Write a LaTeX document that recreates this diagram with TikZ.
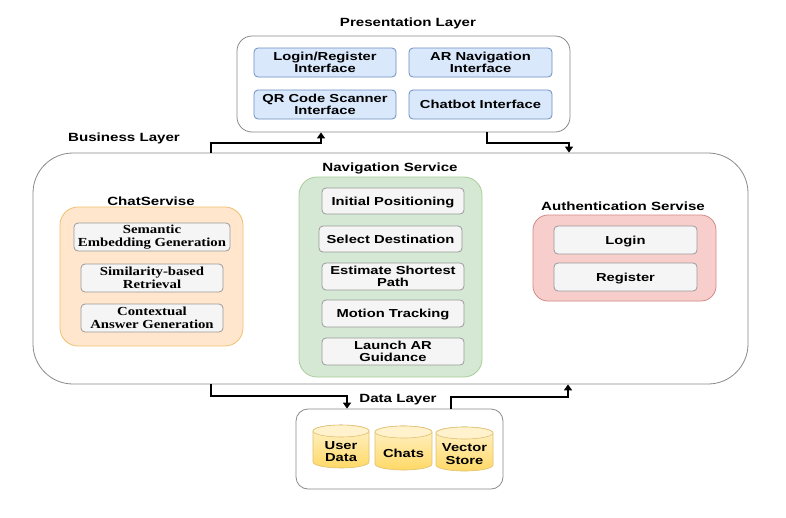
\documentclass[tikz,border=0pt]{standalone}
\usepackage{fontspec}
\setmainfont{Liberation Sans}[FakeStretch=1.27]
\newfontfamily\serifb{Liberation Serif}[FakeStretch=1.2]
\usetikzlibrary{arrows.meta}
\definecolor{bluef}{HTML}{DAE8FC}\definecolor{blued}{HTML}{6C8EBF}
\definecolor{greenf}{HTML}{D5E8D4}\definecolor{greend}{HTML}{A9CC98}
\definecolor{orangef}{HTML}{FFE6CC}\definecolor{oranged}{HTML}{F0C070}
\definecolor{redf}{HTML}{F8CECC}\definecolor{redd}{HTML}{D08A86}
\definecolor{grayf}{HTML}{F5F5F5}\definecolor{grayd}{HTML}{9A9A9A}
\definecolor{outerd}{HTML}{8A8A8A}
\definecolor{cyltop}{HTML}{FFF2CC}\definecolor{cylbot}{HTML}{FFD966}\definecolor{cyld}{HTML}{E0C070}
\tikzset{
  layerbox/.style={draw=outerd,line width=0.8pt,fill=white,rectangle,inner sep=0pt},
  ttl/.style={font=\bfseries\fontsize{11.9}{13}\selectfont,inner sep=0pt},
  itm/.style={rectangle,rounded corners=4pt,line width=0.8pt,inner sep=0pt,align=center,font=\bfseries\fontsize{11.6}{12.6}\selectfont},
  sl/.style={text height=8.8pt,text depth=0pt},
  bitm/.style={itm,fill=bluef,draw=blued},
  gitm/.style={itm,fill=grayf,draw=grayd},
  sitm/.style={gitm,font=\serifb\bfseries\fontsize{12.3}{12.8}\selectfont},
  arr/.style={line width=1.8pt,-{Triangle[width=8pt,length=6pt]}},
  cylbody/.style={draw=cyld,line width=0.6pt,top color=cyltop,bottom color=cylbot},
  cyltopst/.style={draw=cyld,line width=0.6pt,fill=cyltop},
  cyltext/.style={inner sep=0pt,align=center,font=\bfseries\fontsize{11.6}{12.6}\selectfont}
}
\newcommand\dbcyl[6]{%
  \path[cylbody] (#2-#5,#3+6) -- (#2-#5,#4-6) arc[start angle=180,end angle=360,x radius=#5pt,y radius=6pt] -- (#2+#5,#3+6) arc[start angle=0,end angle=180,x radius=#5pt,y radius=6pt] -- cycle;
  \path[cyltopst] (#2,#3+6) ellipse[x radius=#5pt,y radius=6pt];
  \node[cyltext] (#1) at (#2,{(#3+#4)/2+5}) {#6};}
\begin{document}
\begin{tikzpicture}[x=1pt,y=-1pt]
\useasboundingbox (0,0) rectangle (786,517);
\fill[white] (0,0) rectangle (786,517);
% Presentation layer
\node[ttl] (tp) at (408,23.5) {Presentation Layer};
\node[layerbox,rounded corners=15pt,minimum width=333pt,minimum height=96pt] (pl) at (403.5,84) {};
\node[bitm,minimum width=142pt,minimum height=29pt] (p1) at (325,62.5) {Login/Register\\Interface};
\node[bitm,minimum width=143pt,minimum height=29pt] (p2) at (480.5,62.5) {AR Navigation\\Interface};
\node[bitm,minimum width=142pt,minimum height=29pt] (p3) at (325,104.5) {QR Code Scanner\\Interface};
\node[bitm,sl,minimum width=143pt,minimum height=29pt] (p4) at (480.5,104.5) {Chatbot Interface};
% Business layer
\node[ttl] (tb) at (124,138.5) {Business Layer};
\node[layerbox,rounded corners=40pt,minimum width=715pt,minimum height=231pt] (bl) at (390.5,268.5) {};
% Navigation service
\node[ttl] (tn) at (390,168.5) {Navigation Service};
\node[rectangle,rounded corners=18pt,fill=greenf,draw=greend,line width=0.8pt,minimum width=183pt,minimum height=200pt] (nv) at (390.5,277) {};
\node[gitm,sl,minimum width=142pt,minimum height=26pt] (n1) at (393,201) {Initial Positioning};
\node[gitm,sl,minimum width=143pt,minimum height=26pt] (n2) at (390.5,239) {Select Destination};
\node[gitm,minimum width=142pt,minimum height=27pt] (n3) at (393,276.5) {Estimate Shortest\\Path};
\node[gitm,sl,minimum width=142pt,minimum height=27pt] (n4) at (393,313.5) {Motion Tracking};
\node[gitm,minimum width=142pt,minimum height=27pt] (n5) at (393,351.5) {Launch AR\\Guidance};
% Chat service
\node[ttl] (tc) at (151,201.5) {ChatServise};
\node[rectangle,rounded corners=18pt,fill=orangef,draw=oranged,line width=0.8pt,minimum width=183pt,minimum height=139pt] (cs) at (151.5,276.5) {};
\node[sitm,minimum width=156pt,minimum height=28pt] (c1) at (152,237) {Semantic\\Embedding Generation};
\node[sitm,minimum width=142pt,minimum height=28pt] (c2) at (152,278) {Similarity-based\\Retrieval};
\node[sitm,minimum width=142pt,minimum height=28pt] (c3) at (152,318) {Contextual\\Answer Generation};
% Authentication service
\node[ttl] (ta) at (623,206.5) {Authentication Servise};
\node[rectangle,rounded corners=15pt,fill=redf,draw=redd,line width=0.8pt,minimum width=183pt,minimum height=86pt] (au) at (624.5,258) {};
\node[gitm,sl,minimum width=143pt,minimum height=28pt] (a1) at (625.5,240) {Login};
\node[gitm,sl,minimum width=143pt,minimum height=28pt] (a2) at (625.5,277) {Register};
% Data layer
\node[ttl] (td) at (398,400) {Data Layer};
\node[layerbox,rounded corners=12pt,minimum width=207pt,minimum height=80pt] (dl) at (399.5,449) {};
\dbcyl{d1}{341}{425}{468}{28}{User\\Data}
\dbcyl{d2}{403.5}{426}{470}{28.5}{Chats}
\dbcyl{d3}{464.5}{427}{471}{28.5}{Vector\\Store}
% connectors
\coordinate (k1) at (211,143); \coordinate (k2) at (321,143);
\coordinate (k3) at (487,143); \coordinate (k4) at (569,143);
\coordinate (k5) at (211,396); \coordinate (k6) at (347,396);
\coordinate (k7) at (451,397); \coordinate (k8) at (568,397);
\draw[arr] (k1 |- bl.north) -- (k1) -- (k2) -- (k2 |- pl.south);
\draw[arr] (k3 |- pl.south) -- (k3) -- (k4) -- (k4 |- bl.north);
\draw[arr] (k5 |- bl.south) -- (k5) -- (k6) -- (k6 |- dl.north);
\draw[arr] (k7 |- dl.north) -- (k7) -- (k8) -- (k8 |- bl.south);
\end{tikzpicture}
\end{document}
